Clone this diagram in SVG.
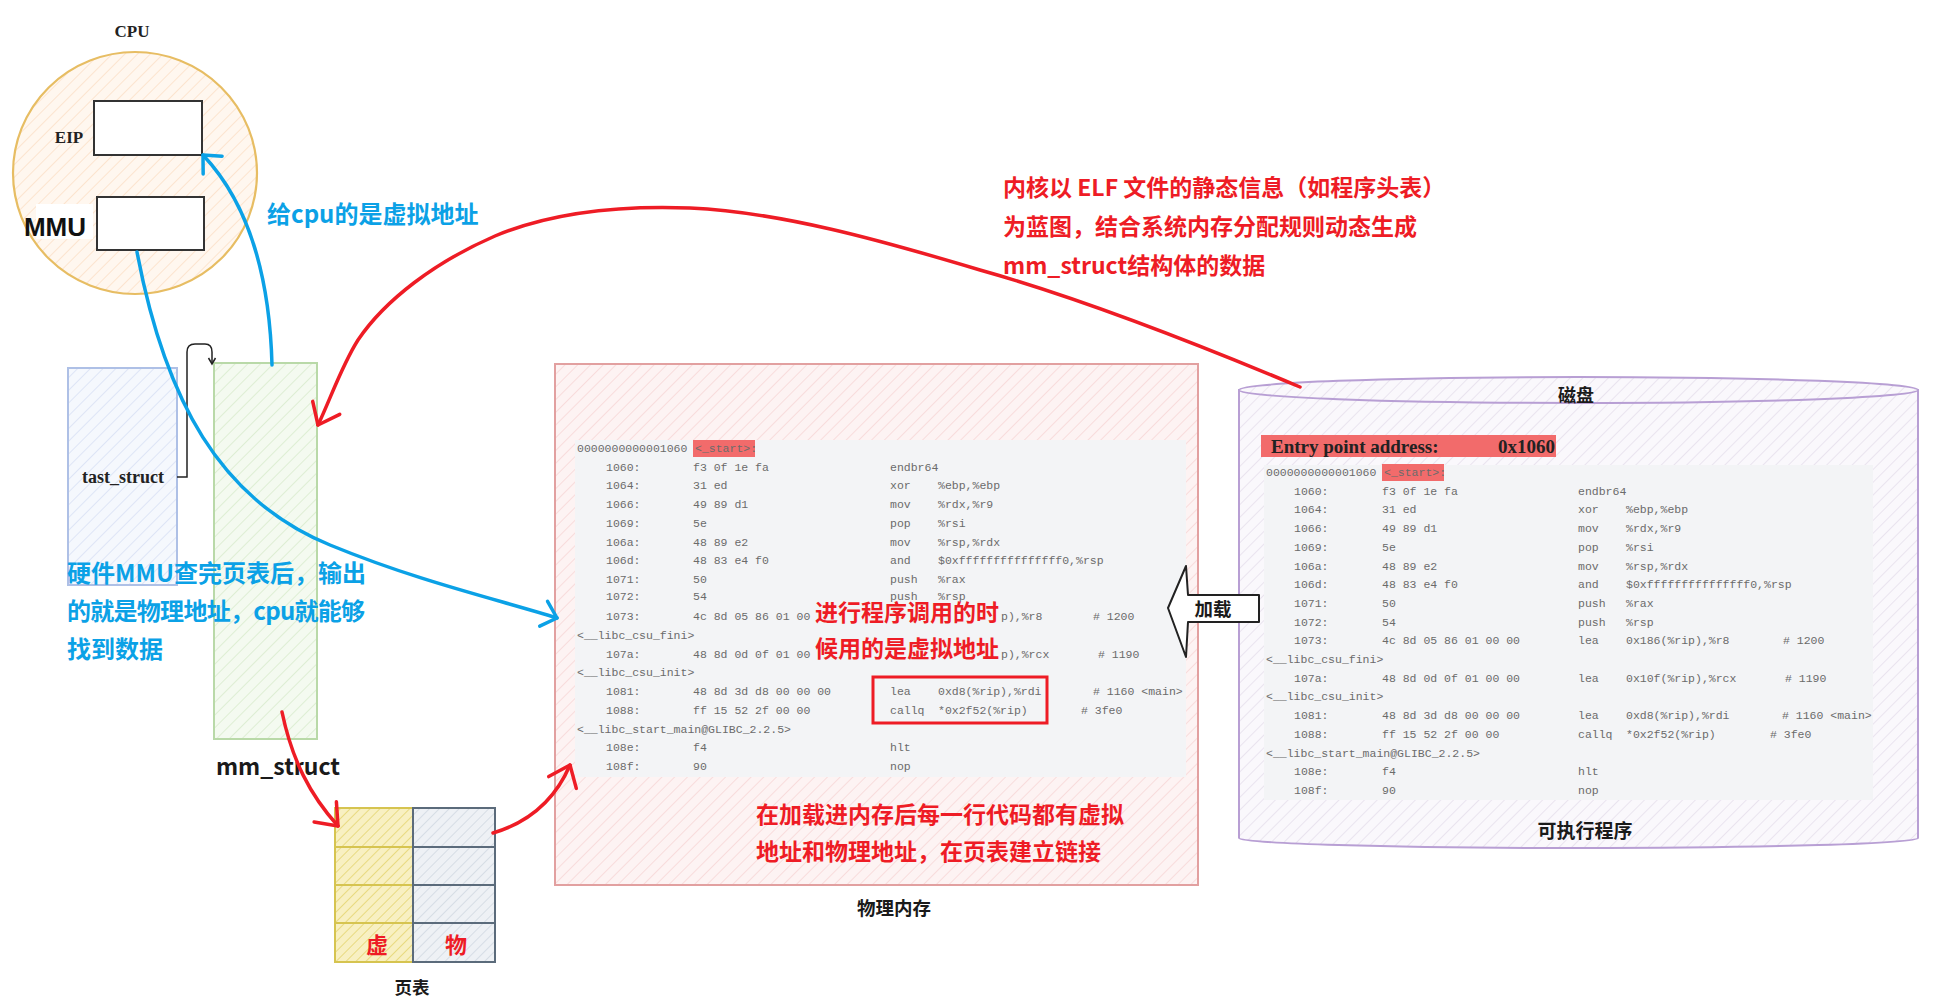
<svg xmlns="http://www.w3.org/2000/svg" width="1935" height="1003" viewBox="0 0 1935 1003">
<style>
.cn{font-family:"Noto Sans CJK SC","Noto Sans",sans-serif;font-weight:700}
.red{fill:#ee1c25}
.blue{fill:#0ba1e6}
.blk{fill:#1a1a1a}
.serif{font-family:"Liberation Serif","Noto Sans CJK SC",serif;font-weight:700;fill:#222}
.code{font-family:"Liberation Mono","DejaVu Sans Mono",monospace;font-size:11.5px;fill:#6b6b6b}
.panel{fill:#f3f4f6}
.hl{fill:#f26b6b}
.cr{fill:none;stroke:#ee1c25;stroke-width:3.5;stroke-linecap:round}
.cb{fill:none;stroke:#0ba1e6;stroke-width:3.5;stroke-linecap:round}
.box{stroke-width:2}
</style>
<defs>
<pattern id="hCpu" width="9" height="9" patternUnits="userSpaceOnUse" patternTransform="rotate(45)"><rect width="9" height="9" fill="#fff7ef"/><line x1="0" y1="0" x2="0" y2="9" stroke="#fbdcc2" stroke-width="1.4"/></pattern>
<pattern id="hBlue" width="9" height="9" patternUnits="userSpaceOnUse" patternTransform="rotate(45)"><rect width="9" height="9" fill="#f5f8fd"/><line x1="0" y1="0" x2="0" y2="9" stroke="#d4def3" stroke-width="1.4"/></pattern>
<pattern id="hGreen" width="9" height="9" patternUnits="userSpaceOnUse" patternTransform="rotate(45)"><rect width="9" height="9" fill="#f4faf0"/><line x1="0" y1="0" x2="0" y2="9" stroke="#d5eac8" stroke-width="1.4"/></pattern>
<pattern id="hYellow" width="7" height="7" patternUnits="userSpaceOnUse" patternTransform="rotate(45)"><rect width="7" height="7" fill="#f8f0c2"/><line x1="0" y1="0" x2="0" y2="7" stroke="#e3d36a" stroke-width="1.5"/></pattern>
<pattern id="hGrey" width="7" height="7" patternUnits="userSpaceOnUse" patternTransform="rotate(45)"><rect width="7" height="7" fill="#eef1f5"/><line x1="0" y1="0" x2="0" y2="7" stroke="#cfd7e0" stroke-width="1.5"/></pattern>
<pattern id="hPink" width="9" height="9" patternUnits="userSpaceOnUse" patternTransform="rotate(45)"><rect width="9" height="9" fill="#fdf3f3"/><line x1="0" y1="0" x2="0" y2="9" stroke="#f7d2d2" stroke-width="1.4"/></pattern>
<pattern id="hPurple" width="9" height="9" patternUnits="userSpaceOnUse" patternTransform="rotate(45)"><rect width="9" height="9" fill="#faf8fc"/><line x1="0" y1="0" x2="0" y2="9" stroke="#e3dcea" stroke-width="1.4"/></pattern>
<marker id="mRed" markerUnits="userSpaceOnUse" viewBox="-24 -18 28 36" markerWidth="28" markerHeight="36" refX="0" refY="0" orient="auto"><path d="M-19,-15 L0,0 L-19,15" fill="none" stroke="#ee1c25" stroke-width="3.5" stroke-linecap="round" stroke-linejoin="round"/></marker>
<marker id="mBlue" markerUnits="userSpaceOnUse" viewBox="-20 -16 24 32" markerWidth="24" markerHeight="32" refX="0" refY="0" orient="auto"><path d="M-14,-13 L0,0 L-14,13" fill="none" stroke="#0ba1e6" stroke-width="3.5" stroke-linecap="round" stroke-linejoin="round"/></marker>
<marker id="mBlk" markerUnits="userSpaceOnUse" viewBox="-8 -5 10 10" markerWidth="10" markerHeight="10" refX="0" refY="0" orient="auto"><path d="M-6,-3.5 L0,0 L-6,3.5" fill="none" stroke="#222" stroke-width="1.5"/></marker>
</defs>
<rect width="1935" height="1003" fill="#ffffff"/>

<g id="cpu">
<ellipse cx="135" cy="173" rx="122" ry="121" fill="url(#hCpu)" stroke="#e7bd63" stroke-width="2.2"/>
<text class="serif" x="132" y="37" font-size="17" text-anchor="middle">CPU</text>
</g>
<g id="eip">
<rect x="94" y="101" width="108" height="54" fill="#ffffff" stroke="#333" class="box"/>
<text class="serif" x="69" y="143" font-size="17" text-anchor="middle">EIP</text>
</g>
<g id="mmu">
<rect x="36" y="204" width="57" height="35" fill="#ffffff"/>
<rect x="97" y="197" width="107" height="53" fill="#ffffff" stroke="#333" class="box"/>
<text x="55" y="236" font-family="Liberation Sans, Arial, sans-serif" font-weight="700" font-size="26" text-anchor="middle" fill="#111">MMU</text>
</g>

<g id="tast_struct">
<rect x="68" y="368" width="109" height="217" fill="url(#hBlue)" stroke="#aec0e6" class="box"/>
<text class="serif" x="123" y="483" font-size="18" text-anchor="middle">tast_struct</text>
</g>
<g id="mm_struct">
<rect x="214" y="363" width="103" height="376" fill="url(#hGreen)" stroke="#b9d9a8" class="box"/>
<text x="278" y="775" class="cn blk" font-size="23" text-anchor="middle">mm_struct</text>
</g>

<g id="page_table">
<rect x="335" y="808" width="78" height="39" fill="url(#hYellow)" stroke="#d6c450" class="box"/>
<rect x="335" y="847" width="78" height="38" fill="url(#hYellow)" stroke="#d6c450" class="box"/>
<rect x="335" y="885" width="78" height="38" fill="url(#hYellow)" stroke="#d6c450" class="box"/>
<rect x="335" y="923" width="78" height="39" fill="url(#hYellow)" stroke="#d6c450" class="box"/>
<rect x="413" y="808" width="82" height="39" fill="url(#hGrey)" stroke="#5b6b7b" class="box"/>
<rect x="413" y="847" width="82" height="38" fill="url(#hGrey)" stroke="#5b6b7b" class="box"/>
<rect x="413" y="885" width="82" height="38" fill="url(#hGrey)" stroke="#5b6b7b" class="box"/>
<rect x="413" y="923" width="82" height="39" fill="url(#hGrey)" stroke="#5b6b7b" class="box"/>
<text x="377" y="953" class="cn red" font-size="22" text-anchor="middle">虚</text>
<text x="456" y="953" class="cn red" font-size="22" text-anchor="middle">物</text>
<text x="412" y="994" class="cn blk" font-size="17.5" text-anchor="middle">页表</text>
</g>

<g id="physical_memory">
<rect x="555" y="364" width="643" height="521" fill="url(#hPink)" stroke="#e2a0a0" class="box"/>
<rect x="575" y="440" width="611" height="337" class="panel"/>
<g class="code" transform="translate(577,452)">
<rect x="116" y="-12" width="62" height="17" class="hl"/>
<text y="0"><tspan x="0">0000000000001060</tspan><tspan x="118">&lt;_start&gt;:</tspan></text>
<text y="18.7"><tspan x="29">1060:</tspan><tspan x="116">f3 0f 1e fa</tspan><tspan x="313">endbr64</tspan></text>
<text y="37.4"><tspan x="29">1064:</tspan><tspan x="116">31 ed</tspan><tspan x="313">xor</tspan><tspan x="361">%ebp,%ebp</tspan></text>
<text y="56.1"><tspan x="29">1066:</tspan><tspan x="116">49 89 d1</tspan><tspan x="313">mov</tspan><tspan x="361">%rdx,%r9</tspan></text>
<text y="74.8"><tspan x="29">1069:</tspan><tspan x="116">5e</tspan><tspan x="313">pop</tspan><tspan x="361">%rsi</tspan></text>
<text y="93.5"><tspan x="29">106a:</tspan><tspan x="116">48 89 e2</tspan><tspan x="313">mov</tspan><tspan x="361">%rsp,%rdx</tspan></text>
<text y="112.2"><tspan x="29">106d:</tspan><tspan x="116">48 83 e4 f0</tspan><tspan x="313">and</tspan><tspan x="361">$0xfffffffffffffff0,%rsp</tspan></text>
<text y="130.9"><tspan x="29">1071:</tspan><tspan x="116">50</tspan><tspan x="313">push</tspan><tspan x="361">%rax</tspan></text>
<text y="147.6"><tspan x="29">1072:</tspan><tspan x="116">54</tspan><tspan x="313">push</tspan><tspan x="361">%rsp</tspan></text>
<text y="168.3"><tspan x="29">1073:</tspan><tspan x="116">4c 8d 05 86 01 00</tspan><tspan x="424">p),%r8</tspan><tspan x="516"># 1200</tspan></text>
<text y="187"><tspan x="0">&lt;__libc_csu_fini&gt;</tspan></text>
<text y="205.7"><tspan x="29">107a:</tspan><tspan x="116">48 8d 0d 0f 01 00</tspan><tspan x="424">p),%rcx</tspan><tspan x="521"># 1190</tspan></text>
<text y="224.4"><tspan x="0">&lt;__libc_csu_init&gt;</tspan></text>
<text y="243.1"><tspan x="29">1081:</tspan><tspan x="116">48 8d 3d d8 00 00 00</tspan><tspan x="313">lea</tspan><tspan x="361">0xd8(%rip),%rdi</tspan><tspan x="516"># 1160 &lt;main&gt;</tspan></text>
<text y="261.8"><tspan x="29">1088:</tspan><tspan x="116">ff 15 52 2f 00 00</tspan><tspan x="313">callq</tspan><tspan x="361">*0x2f52(%rip)</tspan><tspan x="504"># 3fe0</tspan></text>
<text y="280.5"><tspan x="0">&lt;__libc_start_main@GLIBC_2.2.5&gt;</tspan></text>
<text y="299.2"><tspan x="29">108e:</tspan><tspan x="116">f4</tspan><tspan x="313">hlt</tspan></text>
<text y="317.9"><tspan x="29">108f:</tspan><tspan x="116">90</tspan><tspan x="313">nop</tspan></text>
</g>
<rect x="873" y="677" width="174" height="46" fill="none" stroke="#ee1c25" stroke-width="3"/>
<text x="815" y="621" class="cn red" font-size="23">进行程序调用的时</text>
<text x="815" y="657" class="cn red" font-size="23">候用的是虚拟地址</text>
<text x="756" y="823" class="cn red" font-size="23">在加载进内存后每一行代码都有虚拟</text>
<text x="756" y="860" class="cn red" font-size="23">地址和物理地址，在页表建立链接</text>
<text x="894" y="915" class="cn blk" font-size="18.5" text-anchor="middle">物理内存</text>
</g>

<g id="disk">
<path d="M1239,390 V838 A339.5,10 0 0 0 1918,838 V390 Z" fill="url(#hPurple)" stroke="#b89fd4" class="box"/>
<ellipse cx="1578.5" cy="390" rx="339.5" ry="13" fill="url(#hPurple)" stroke="#b89fd4" class="box"/>
<text x="1576" y="402" class="cn blk" font-size="18" text-anchor="middle">磁盘</text>
<rect x="1261" y="435" width="295" height="22" class="hl"/>
<text class="serif" x="1271" y="453" font-size="19" fill="#111">Entry point address:</text>
<text class="serif" x="1555" y="453" font-size="19" text-anchor="end" fill="#111">0x1060</text>
<rect x="1264" y="465" width="609" height="335" class="panel"/>
<g class="code" transform="translate(1266,476)">
<rect x="116" y="-12" width="62" height="17" class="hl"/>
<text y="0"><tspan x="0">0000000000001060</tspan><tspan x="118">&lt;_start&gt;:</tspan></text>
<text y="18.7"><tspan x="28">1060:</tspan><tspan x="116">f3 0f 1e fa</tspan><tspan x="312">endbr64</tspan></text>
<text y="37.4"><tspan x="28">1064:</tspan><tspan x="116">31 ed</tspan><tspan x="312">xor</tspan><tspan x="360">%ebp,%ebp</tspan></text>
<text y="56.1"><tspan x="28">1066:</tspan><tspan x="116">49 89 d1</tspan><tspan x="312">mov</tspan><tspan x="360">%rdx,%r9</tspan></text>
<text y="74.8"><tspan x="28">1069:</tspan><tspan x="116">5e</tspan><tspan x="312">pop</tspan><tspan x="360">%rsi</tspan></text>
<text y="93.5"><tspan x="28">106a:</tspan><tspan x="116">48 89 e2</tspan><tspan x="312">mov</tspan><tspan x="360">%rsp,%rdx</tspan></text>
<text y="112.2"><tspan x="28">106d:</tspan><tspan x="116">48 83 e4 f0</tspan><tspan x="312">and</tspan><tspan x="360">$0xfffffffffffffff0,%rsp</tspan></text>
<text y="130.9"><tspan x="28">1071:</tspan><tspan x="116">50</tspan><tspan x="312">push</tspan><tspan x="360">%rax</tspan></text>
<text y="149.6"><tspan x="28">1072:</tspan><tspan x="116">54</tspan><tspan x="312">push</tspan><tspan x="360">%rsp</tspan></text>
<text y="168.3"><tspan x="28">1073:</tspan><tspan x="116">4c 8d 05 86 01 00 00</tspan><tspan x="312">lea</tspan><tspan x="360">0x186(%rip),%r8</tspan><tspan x="517"># 1200</tspan></text>
<text y="187"><tspan x="0">&lt;__libc_csu_fini&gt;</tspan></text>
<text y="205.7"><tspan x="28">107a:</tspan><tspan x="116">48 8d 0d 0f 01 00 00</tspan><tspan x="312">lea</tspan><tspan x="360">0x10f(%rip),%rcx</tspan><tspan x="519"># 1190</tspan></text>
<text y="224.4"><tspan x="0">&lt;__libc_csu_init&gt;</tspan></text>
<text y="243.1"><tspan x="28">1081:</tspan><tspan x="116">48 8d 3d d8 00 00 00</tspan><tspan x="312">lea</tspan><tspan x="360">0xd8(%rip),%rdi</tspan><tspan x="516"># 1160 &lt;main&gt;</tspan></text>
<text y="261.8"><tspan x="28">1088:</tspan><tspan x="116">ff 15 52 2f 00 00</tspan><tspan x="312">callq</tspan><tspan x="360">*0x2f52(%rip)</tspan><tspan x="504"># 3fe0</tspan></text>
<text y="280.5"><tspan x="0">&lt;__libc_start_main@GLIBC_2.2.5&gt;</tspan></text>
<text y="299.2"><tspan x="28">108e:</tspan><tspan x="116">f4</tspan><tspan x="312">hlt</tspan></text>
<text y="317.9"><tspan x="28">108f:</tspan><tspan x="116">90</tspan><tspan x="312">nop</tspan></text>
</g>
<text x="1585" y="838" class="cn blk" font-size="19" text-anchor="middle">可执行程序</text>
</g>

<g id="load_arrow">
<path d="M1168,608 L1186,566 L1188,595 L1259,595 L1259,622 L1188,622 L1186,657 Z" fill="#ffffff" stroke="#222" stroke-width="2" stroke-linejoin="round"/>
<text x="1213" y="616" class="cn blk" font-size="18.5" text-anchor="middle">加载</text>
</g>

<g id="notes">
<text x="267" y="223" class="cn blue" font-size="24">给cpu的是虚拟地址</text>
<text x="67" y="582" class="cn blue" font-size="24">硬件MMU查完页表后，输出</text>
<text x="67" y="620" class="cn blue" font-size="24" textLength="298">的就是物理地址，cpu就能够</text>
<text x="67" y="658" class="cn blue" font-size="24">找到数据</text>
<text x="1003" y="196" class="cn red" font-size="23">内核以 ELF 文件的静态信息（如程序头表）</text>
<text x="1003" y="235" class="cn red" font-size="23">为蓝图，结合系统内存分配规则动态生成</text>
<text x="1003" y="274" class="cn red" font-size="23">mm_struct结构体的数据</text>
</g>

<g id="connectors">
<path d="M177,477 H187 V352 Q187,344 195,344 H205 Q212,344 212,352 V364" fill="none" stroke="#222" stroke-width="1.5" marker-end="url(#mBlk)"/>
<path class="cb" d="M272,365 C270,290 255,210 203,155" marker-end="url(#mBlue)"/>
<path class="cb" d="M137,252 C165,400 220,500 330,545 C420,582 500,600 557,618" marker-end="url(#mBlue)"/>
<path class="cr" d="M1300,387 C1200,345 1080,298 980,270 C880,240 780,212 690,208 C610,205 545,215 495,236 C435,262 385,300 358,340 C342,365 330,400 318,425" marker-end="url(#mRed)"/>
<path class="cr" d="M282,712 C292,760 310,795 338,826" marker-end="url(#mRed)"/>
<path class="cr" d="M493,833 C530,822 555,800 570,765" marker-end="url(#mRed)"/>
</g>
</svg>
